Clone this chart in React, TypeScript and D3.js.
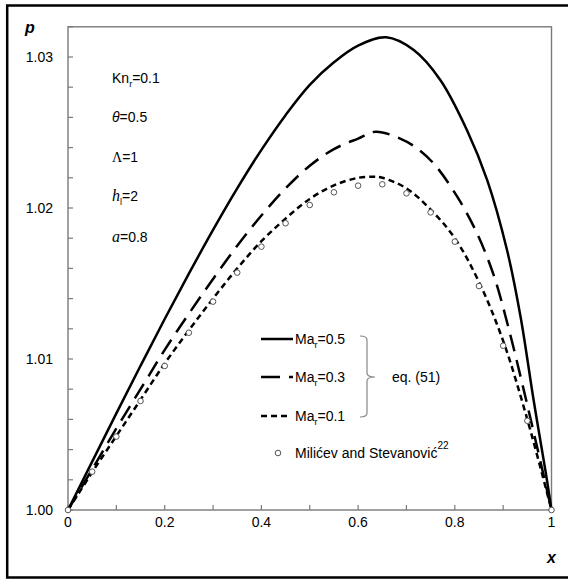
import React from "react";
import * as d3 from "d3";

const ma05X = [0, 0.05, 0.1, 0.15, 0.2, 0.25, 0.3, 0.35, 0.4, 0.45, 0.5, 0.55, 0.6, 0.658, 0.715, 0.77, 0.825, 0.867, 0.908, 0.936, 0.963, 0.988, 1];
const ma05P = [1, 1.0032, 1.0064, 1.00955, 1.01265, 1.01565, 1.01855, 1.0213, 1.02385, 1.02615, 1.02815, 1.02965, 1.03075, 1.0313, 1.03046, 1.02848, 1.02517, 1.02185, 1.01722, 1.0128, 1.00728, 1.0025, 1];

const ma03X = [0, 0.05, 0.1, 0.15, 0.2, 0.25, 0.3, 0.35, 0.4, 0.45, 0.5, 0.55, 0.6, 0.636, 0.687, 0.72, 0.756, 0.805, 0.846, 0.881, 0.91, 0.94, 0.97, 1];
const ma03P = [1, 1.0027, 1.0054, 1.008, 1.0106, 1.013, 1.0153, 1.0175, 1.0195, 1.0213, 1.0228, 1.0239, 1.0246, 1.02505, 1.0246, 1.024, 1.02296, 1.02075, 1.01832, 1.0155, 1.0122, 1.0083, 1.0042, 1];

const ma01X = [0, 0.05, 0.1, 0.15, 0.2, 0.25, 0.3, 0.35, 0.4, 0.45, 0.5, 0.55, 0.6, 0.632, 0.65, 0.7, 0.75, 0.8, 0.85, 0.9, 0.95, 1];
const ma01P = [1, 1.0025, 1.0049, 1.0073, 1.0097, 1.0119, 1.014, 1.016, 1.0178, 1.0193, 1.0206, 1.0215, 1.022, 1.02207, 1.022, 1.0213, 1.0199, 1.018, 1.0151, 1.0112, 1.006, 1];

const refX = [0, 0.05, 0.1, 0.15, 0.2, 0.25, 0.3, 0.35, 0.4, 0.45, 0.5, 0.55, 0.6, 0.65, 0.7, 0.75, 0.8, 0.85, 0.9, 0.95, 1];
const refP = [1, 1.00254, 1.00486, 1.00722, 1.00954, 1.01174, 1.0138, 1.01572, 1.01744, 1.01899, 1.0202, 1.02104, 1.02148, 1.02157, 1.02097, 1.01971, 1.01777, 1.01483, 1.01088, 1.00591, 1];

const xTickLabels = ["0", "0.2", "0.4", "0.6", "0.8", "1"];
const yTickLabels = ["1.00", "1.01", "1.02", "1.03"];

const FONT = "'Liberation Sans', Arial, sans-serif";
const SERIF = "'Liberation Serif', 'Times New Roman', serif";

export default function App() {
  const x = d3.scaleLinear().domain([0, 1]).range([68, 551.5]);
  const y = d3.scaleLinear().domain([1, 1.032]).range([510, 510 - 0.032 * 15100]);

  const line = d3
    .line<[number, number]>()
    .x((d) => x(d[0]))
    .y((d) => y(d[1]))
    .curve(d3.curveCatmullRom.alpha(0.5));

  const zip = (a: number[], b: number[]) => a.map((v, i) => [v, b[i]] as [number, number]);

  const xMinor = d3.range(0, 1.0001, 0.1);
  const yMinor = d3.range(1, 1.0321, 0.002);

  const gray = "#7a7a7a";
  const [x0, x1] = x.range();
  const [yb, yt] = y.range();

  return (
    <svg width={568} height={579} style={{ position: "absolute", left: 0, top: 0, background: "#fff" }}>
      <rect x={0} y={0} width={568} height={579} fill="#fff" />
      <path d="M 570 5.5 H 7.2 V 577.5 H 570" fill="none" stroke="#000" strokeWidth={2.5} />
      <rect x={x0} y={yt} width={x1 - x0} height={yb - yt} fill="none" stroke={gray} strokeWidth={1.4} />
      {xMinor.map((t, i) => (
        <line key={"xt" + i} x1={x(t)} x2={x(t)} y1={yb} y2={yb - 5} stroke={gray} strokeWidth={1.2} />
      ))}
      {yMinor.map((t, i) => (
        <line key={"yt" + i} x1={x0} x2={x0 + 5} y1={y(t)} y2={y(t)} stroke={gray} strokeWidth={1.2} />
      ))}
      {xTickLabels.map((s, i) => (
        <text key={"xl" + i} x={x(+s)} y={527} textAnchor="middle" fontFamily={FONT} fontSize={14}>
          {s}
        </text>
      ))}
      {yTickLabels.map((s, i) => (
        <text key={"yl" + i} x={53} y={y(+s)} dy="0.36em" textAnchor="end" fontFamily={FONT} fontSize={14}>
          {s}
        </text>
      ))}
      <text x={25} y={33} fontFamily={FONT} fontSize={16} fontWeight="bold" fontStyle="italic">p</text>
      <text x={547} y={563} fontFamily={FONT} fontSize={16} fontWeight="bold" fontStyle="italic">x</text>

      <path d={line(zip(ma05X, ma05P)) || ""} fill="none" stroke="#000" strokeWidth={2.5} />
      <path d={line(zip(ma03X, ma03P)) || ""} fill="none" stroke="#000" strokeWidth={2.5} strokeDasharray="17 9" />
      <path d={line(zip(ma01X, ma01P)) || ""} fill="none" stroke="#000" strokeWidth={2.5} strokeDasharray="6 4" />
      {refX.map((v, i) => (
        <circle key={"c" + i} cx={x(v)} cy={y(refP[i])} r={2.8} fill="#fff" stroke="#555" strokeWidth={1} />
      ))}

      <g fontFamily={FONT} fontSize={14}>
        <text x={112} y={83}>Kn<tspan fontSize={9} dy={4}>r</tspan><tspan dy={-4}>=0.1</tspan></text>
        <text x={112} y={122}><tspan fontStyle="italic">θ</tspan>=0.5</text>
        <text x={112} y={162}><tspan fontFamily={SERIF}>Λ</tspan>=1</text>
        <text x={112} y={201}><tspan fontStyle="italic" fontFamily={SERIF} fontSize={16}>h</tspan><tspan fontSize={9} dy={4}>l</tspan><tspan dy={-4}>=2</tspan></text>
        <text x={112} y={242}><tspan fontStyle="italic" fontFamily={SERIF} fontSize={16}>a</tspan>=0.8</text>
      </g>

      <line x1={261} x2={293} y1={339} y2={339} stroke="#000" strokeWidth={2.5} />
      <line x1={261} x2={293} y1={377} y2={377} stroke="#000" strokeWidth={2.5} strokeDasharray="19 9" />
      <line x1={261} x2={289} y1={416} y2={416} stroke="#000" strokeWidth={2.5} strokeDasharray="6 4" />
      <circle cx={278} cy={453} r={2.8} fill="#fff" stroke="#555" strokeWidth={1} />
      <g fontFamily={FONT} fontSize={14}>
        <text x={295} y={344}>Ma<tspan fontSize={9} dy={4}>r</tspan><tspan dy={-4}>=0.5</tspan></text>
        <text x={295} y={382}>Ma<tspan fontSize={9} dy={4}>r</tspan><tspan dy={-4}>=0.3</tspan></text>
        <text x={295} y={421}>Ma<tspan fontSize={9} dy={4}>r</tspan><tspan dy={-4}>=0.1</tspan></text>
        <text x={295} y={458}>Milićev and Stevanović<tspan fontSize={10} dy={-9}>22</tspan></text>
        <text x={392} y={382}>eq. (51)</text>
      </g>
      <path
        d="M 360 336 Q 367 336 367 340 V 373 Q 367 377 375 377 Q 367 377 367 381 V 413 Q 367 417 360 417"
        fill="none"
        stroke="#888"
        strokeWidth={1.2}
      />
    </svg>
  );
}
